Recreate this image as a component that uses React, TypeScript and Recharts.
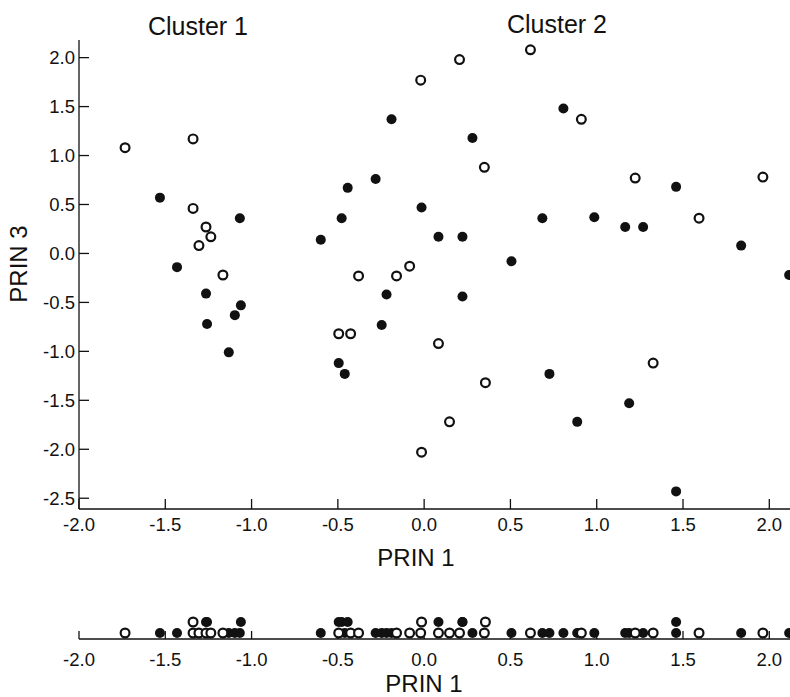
import { ScatterChart, Scatter, XAxis, YAxis } from 'recharts';

// principal component scores (open vs filled markers)
const openPrin1 = [
  -1.733, -1.339, -1.339, -1.264, -1.236, -1.305, -1.166, -0.38, -0.16, -0.084, -0.495, -0.426,
  -0.02, 0.205, 0.616, 0.911, 0.349, 1.223, 1.593, 1.963, 0.083, 0.355, 1.327, 0.147, -0.015,
];
const openPrin3 = [
  1.08, 1.17, 0.46, 0.27, 0.17, 0.08, -0.22, -0.23, -0.23, -0.13, -0.82, -0.82,
  1.77, 1.98, 2.08, 1.37, 0.88, 0.77, 0.36, 0.78, -0.92, -1.32, -1.12, -1.72, -2.03,
];
const filledPrin1 = [
  -1.531, -1.068, -1.432, -1.264, -1.258, -1.062, -1.097, -1.132, -0.599, -0.478, -0.443, -0.281,
  -0.189, -0.495, -0.46, -0.218, -0.246, 0.28, 0.807, -0.015, 0.083, 0.222, 0.685, 0.986,
  1.46, 1.165, 1.269, 1.837, 0.506, 0.222, 0.726, 1.188, 0.887, 1.46, 2.115,
];
const filledPrin3 = [
  0.57, 0.36, -0.14, -0.41, -0.72, -0.53, -0.63, -1.01, 0.14, 0.36, 0.67, 0.76,
  1.37, -1.12, -1.23, -0.42, -0.73, 1.18, 1.48, 0.47, 0.17, 0.17, 0.36, 0.37,
  0.68, 0.27, 0.27, 0.08, -0.08, -0.44, -1.23, -1.53, -1.72, -2.43, -0.22,
];

const xTicks = [-2.0, -1.5, -1.0, -0.5, 0.0, 0.5, 1.0, 1.5, 2.0];
const yTicks = [-2.5, -2.0, -1.5, -1.0, -0.5, 0.0, 0.5, 1.0, 1.5, 2.0];
const clusterTitles = ['Cluster 1', 'Cluster 2'];
const xTitle = 'PRIN 1';
const yTitle = 'PRIN 3';

const FONT = '"Liberation Sans", Arial, Helvetica, sans-serif';
const INK = '#111';

const openPoints = openPrin1.map((x, i) => ({ x, y: openPrin3[i] }));
const filledPoints = filledPrin1.map((x, i) => ({ x, y: filledPrin3[i] }));

// 1-D strip: points that land on (almost) the same PRIN 1 get stacked one level up
const stripAll = [
  ...openPrin1.map((x) => ({ x, kind: 'open' })),
  ...filledPrin1.map((x) => ({ x, kind: 'filled' })),
].sort((a, b) => a.x - b.x);
const placed: { x: number; kind: string; y: number }[] = [];
stripAll.forEach((p) => {
  const busy = placed.some((q) => Math.abs(q.x - p.x) < 0.02 && q.y === 0);
  placed.push({ ...p, y: busy ? 1 : 0 });
});
const stripOpen = placed.filter((p) => p.kind === 'open');
const stripFilled = placed.filter((p) => p.kind === 'filled');

const OpenDot = (p: any) => (
  <circle cx={p.cx} cy={p.cy} r={4.4} fill="#fff" stroke={INK} strokeWidth={2.2} />
);
const FilledDot = (p: any) => <circle cx={p.cx} cy={p.cy} r={5} fill={INK} />;

const tickStyle = { fontSize: 18.5, fill: INK, fontFamily: FONT };
const fmt = (v: number) => v.toFixed(1);

export default function App() {
  return (
    <div style={{ position: 'absolute', left: 0, top: 0, width: 790, height: 697, background: '#fff' }}>
      <div style={{ position: 'absolute', left: 0, top: 0 }}>
        <ScatterChart width={790} height={580} margin={{ top: 40, right: 0, bottom: 0, left: 0 }}>
          <XAxis
            type="number"
            dataKey="x"
            domain={[-2, 2.12]}
            allowDataOverflow
            ticks={xTicks}
            interval={0}
            tickFormatter={fmt}
            tick={tickStyle}
            tickSize={-10}
            tickMargin={19}
            height={71}
            stroke={INK}
            strokeWidth={1.3}
          />
          <YAxis
            type="number"
            dataKey="y"
            domain={[-2.61, 2.18]}
            allowDataOverflow
            ticks={yTicks}
            interval={0}
            tickFormatter={fmt}
            tick={tickStyle}
            tickSize={-10}
            tickMargin={14}
            width={79}
            stroke={INK}
            strokeWidth={1.3}
          />
          <Scatter data={filledPoints} shape={FilledDot} isAnimationActive={false} />
          <Scatter data={openPoints} shape={OpenDot} isAnimationActive={false} />
          <text x={198} y={35} textAnchor="middle" fontSize={25} fontFamily={FONT} fill={INK}>
            {clusterTitles[0]}
          </text>
          <text x={557} y={33} textAnchor="middle" fontSize={25} fontFamily={FONT} fill={INK}>
            {clusterTitles[1]}
          </text>
          <text x={416} y={566} textAnchor="middle" fontSize={24} fontFamily={FONT} fill={INK}>
            {xTitle}
          </text>
          <text
            x={27}
            y={264}
            transform="rotate(-90 27 264)"
            textAnchor="middle"
            fontSize={24}
            fontFamily={FONT}
            fill={INK}
          >
            {yTitle}
          </text>
        </ScatterChart>
      </div>
      <div style={{ position: 'absolute', left: 0, top: 590 }}>
        <ScatterChart width={790} height={107} margin={{ top: 10, right: 0, bottom: 0, left: 79 }}>
          <XAxis
            type="number"
            dataKey="x"
            domain={[-2, 2.12]}
            allowDataOverflow
            ticks={xTicks}
            interval={0}
            tickFormatter={fmt}
            tick={tickStyle}
            tickSize={-8}
            tickMargin={22}
            height={58}
            stroke={INK}
            strokeWidth={1.3}
          />
          <YAxis hide type="number" dataKey="y" domain={[-0.545, 3]} allowDataOverflow />
          <Scatter data={stripFilled} shape={FilledDot} isAnimationActive={false} />
          <Scatter data={stripOpen} shape={OpenDot} isAnimationActive={false} />
          <text x={424} y={102} textAnchor="middle" fontSize={24} fontFamily={FONT} fill={INK}>
            {xTitle}
          </text>
        </ScatterChart>
      </div>
    </div>
  );
}
